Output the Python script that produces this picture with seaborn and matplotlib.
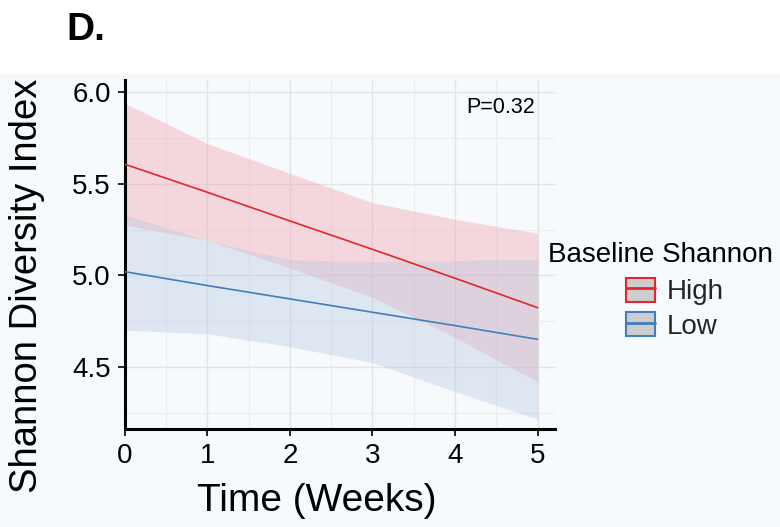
import numpy as np
import pandas as pd
import matplotlib
matplotlib.use('Agg')
import matplotlib.pyplot as plt
from matplotlib.patches import Patch, Rectangle
from matplotlib.lines import Line2D
from matplotlib.legend_handler import HandlerTuple
import seaborn as sns

# fitted values
weeks = [0, 1, 2, 3, 4, 5]
groups = ["High", "Low"]
high_fit = [5.607, 5.454, 5.297, 5.142, 4.984, 4.823]
high_upper = [5.94, 5.72, 5.557, 5.397, 5.306, 5.23]
high_lower = [5.275, 5.19, 5.04, 4.88, 4.66, 4.418]
low_fit = [5.02, 4.944, 4.871, 4.798, 4.725, 4.65]
low_upper = [5.33, 5.19, 5.084, 5.075, 5.08, 5.09]
low_lower = [4.70, 4.68, 4.61, 4.523, 4.364, 4.213]
p_label = "P=0.32"

colors = {"High": "#e3262b", "Low": "#3f7fbf"}
fills = {"High": "#f0a0aa", "Low": "#b8c8de"}

df = pd.DataFrame({
    "Time": weeks * 2,
    "Shannon": high_fit + low_fit,
    "Group": ["High"] * len(weeks) + ["Low"] * len(weeks),
})
bands = {"High": (high_lower, high_upper), "Low": (low_lower, low_upper)}

sns.set_theme(style="ticks")
plt.rcParams['font.family'] = ['Liberation Sans', 'DejaVu Sans']

fig = plt.figure(figsize=(7.8, 5.27), dpi=100)
fig.patch.set_facecolor("white")
fig.patches.append(Rectangle((0, 0), 1, 1 - 73 / 527, transform=fig.transFigure,
                             facecolor="#f6fafd", edgecolor="none", zorder=-10))
ax = fig.add_axes([0.16, 0.186, 0.5515, 0.662])
ax.set_facecolor("#f6fafd")

for g in groups:
    lo, hi = bands[g]
    ax.fill_between(weeks, lo, hi, color=fills[g], alpha=0.38, linewidth=0, zorder=1)

sns.lineplot(data=df, x="Time", y="Shannon", hue="Group", palette=colors,
             linewidth=1.2, ax=ax, legend=False, zorder=3)

ax.set_xlim(0, 5.21)
ax.set_ylim(4.16, 6.067)
ax.set_xticks(range(6))
ax.set_yticks([4.5, 5.0, 5.5, 6.0])
ax.set_xticks(np.arange(0.5, 5.5, 1.0), minor=True)
ax.set_yticks([4.25, 4.75, 5.25, 5.75], minor=True)
ax.grid(which="major", color="#e3e3e6", linewidth=1.0, zorder=0)
ax.grid(which="minor", color="#ececef", linewidth=0.8, zorder=0)
ax.set_axisbelow(True)

for s in ["top", "right"]:
    ax.spines[s].set_visible(False)
for s in ["left", "bottom"]:
    ax.spines[s].set_linewidth(2.2)
    ax.spines[s].set_color("black")
ax.tick_params(which="major", length=5, width=1.2, color="black",
               labelsize=20, labelcolor="black", pad=5)
ax.tick_params(which="minor", length=0)

ax.set_xlabel("Time (Weeks)", fontsize=28, color="black")
ax.set_ylabel("Shannon Diversity Index", fontsize=27.5, color="black")
ax.xaxis.set_label_coords(0.447, -0.155)
ax.yaxis.set_label_coords(-0.186, 0.41)

ax.text(4.55, 5.915, p_label, fontsize=15.5, ha="center", va="center", color="black")

fig.text(66 / 780, 1 - 30 / 527, "D.", fontsize=28, fontweight="bold",
         ha="left", va="center", color="black")

# legend: title placed on its own, keys indented below it
fig.text(548 / 780, 1 - 255 / 527, "Baseline Shannon", fontsize=20,
         ha="left", va="center", color="black")
handles = [(Patch(facecolor="#cdcdcd", edgecolor=colors[g], linewidth=1.5),
            Line2D([], [], color=colors[g], linewidth=2)) for g in groups]
leg = fig.legend(handles, groups,
                 handler_map={tuple: HandlerTuple(ndivide=1)},
                 loc="center left", bbox_to_anchor=(626 / 780, 1 - 308.5 / 527),
                 frameon=False, fontsize=20, borderpad=0,
                 handlelength=1.05, handleheight=1.0, labelspacing=0.22,
                 handletextpad=0.4, borderaxespad=0)

fig.savefig("out.png", dpi=100, facecolor=fig.get_facecolor())
